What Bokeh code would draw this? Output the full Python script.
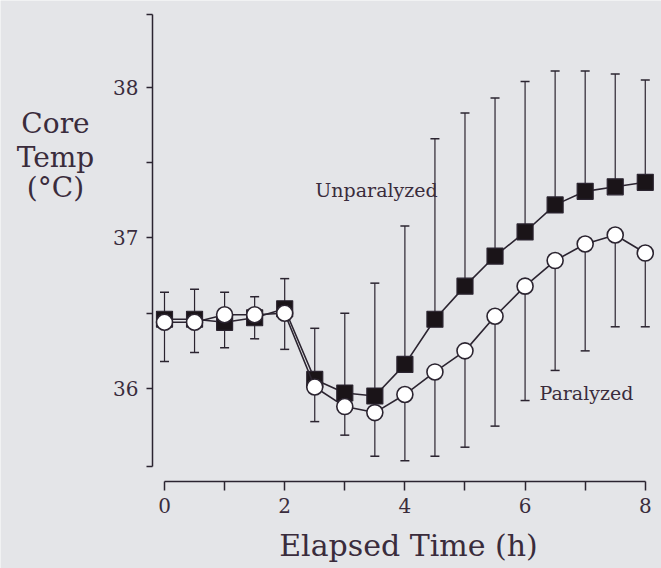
from bokeh.plotting import figure
from bokeh.models import FixedTicker, Label, Whisker, TeeHead, ColumnDataSource, LinearAxis
from bokeh.embed import file_html
from bokeh.resources import INLINE

# ---- data ----
hours = [0, 0.5, 1, 1.5, 2, 2.5, 3, 3.5, 4, 4.5, 5, 5.5, 6, 6.5, 7, 7.5, 8]
unparalyzed = [36.46, 36.46, 36.44, 36.47, 36.53, 36.06, 35.97, 35.95, 36.16, 36.46,
               36.68, 36.88, 37.04, 37.22, 37.31, 37.34, 37.37]
unparalyzed_upper = [36.64, 36.66, 36.64, 36.61, 36.73, 36.40, 36.50, 36.70, 37.08, 37.66,
                     37.83, 37.93, 38.04, 38.11, 38.11, 38.09, 38.05]
paralyzed = [36.44, 36.44, 36.49, 36.49, 36.50, 36.01, 35.88, 35.84, 35.96, 36.11,
             36.25, 36.48, 36.68, 36.85, 36.96, 37.02, 36.90]
paralyzed_lower = [36.18, 36.24, 36.27, 36.33, 36.26, 35.78, 35.69, 35.55, 35.52, 35.55,
                   35.61, 35.75, 35.92, 36.12, 36.25, 36.41, 36.41]
x_ticks = [0, 2, 4, 6, 8]
x_minor = [1, 3, 5, 7]
y_ticks = [36, 37, 38]
y_minor = [35.483, 36.5, 37.5, 38.484]
y_title_lines = ["Core", "Temp", "(°C)"]
x_title = "Elapsed Time (h)"

BG = "#e4e5e8"
INK = "#2b2430"
TXT = "#3a2c3c"
FONT = "DejaVu Serif"

p = figure(width=661, height=568, output_backend="svg", toolbar_location=None,
           x_range=(-2.729, 8.270), y_range=(34.804, 38.578),
           x_axis_location=None, y_axis_location=None,
           min_border_left=0, min_border_right=0, min_border_top=0, min_border_bottom=0)
p.background_fill_color = BG
p.border_fill_color = BG
p.outline_line_color = None
p.grid.visible = False


def style(ax, tick_len, standoff):
    ax.axis_line_color = INK
    ax.axis_line_width = 1.5
    ax.major_tick_line_color = INK
    ax.minor_tick_line_color = INK
    ax.major_tick_line_width = 1.5
    ax.minor_tick_line_width = 1.5
    ax.major_tick_out = tick_len
    ax.major_tick_in = 0
    ax.minor_tick_out = tick_len
    ax.minor_tick_in = 0
    ax.major_label_text_font = FONT
    ax.major_label_text_font_size = "20px"
    ax.major_label_text_color = TXT
    ax.major_label_standoff = standoff


xa = LinearAxis(ticker=FixedTicker(ticks=x_ticks, minor_ticks=x_minor),
                bounds=(0, 8), fixed_location=35.382)
style(xa, 9, 7)
p.add_layout(xa, "below")

ya = LinearAxis(ticker=FixedTicker(ticks=y_ticks, minor_ticks=y_minor),
                bounds=(35.482, 38.486), fixed_location=-0.2)
style(ya, 6, 8)
p.add_layout(ya, "left")

# error bars
src_u = ColumnDataSource(dict(t=hours, y=unparalyzed, up=unparalyzed_upper))
src_p = ColumnDataSource(dict(t=hours, y=paralyzed, lo=paralyzed_lower))
w_u = Whisker(base="t", lower="y", upper="up", source=src_u, level="underlay",
              line_color=INK, line_width=1.2,
              upper_head=TeeHead(size=9, line_color=INK, line_width=1.5), lower_head=None)
w_p = Whisker(base="t", lower="lo", upper="y", source=src_p, level="underlay",
              line_color=INK, line_width=1.2,
              lower_head=TeeHead(size=9, line_color=INK, line_width=1.5), upper_head=None)
p.add_layout(w_u)
p.add_layout(w_p)

# series
p.line("t", "y", source=src_u, line_color=INK, line_width=1.6)
p.scatter("t", "y", source=src_u, marker="square", size=16, fill_color="#1a1418",
          line_color=INK, line_width=1.2)
p.line("t", "y", source=src_p, line_color=INK, line_width=1.6)
p.scatter("t", "y", source=src_p, marker="circle", size=16, fill_color="white",
          line_color=INK, line_width=1.6)

# series labels
p.add_layout(Label(x=2.51, y=37.322, text="Unparalyzed", text_font=FONT,
                   text_font_size="19px", text_color=TXT, text_baseline="alphabetic"))
p.add_layout(Label(x=6.24, y=35.967, text="Paralyzed", text_font=FONT,
                   text_font_size="19px", text_color=TXT, text_baseline="alphabetic"))

# axis titles
p.add_layout(Label(x=4.06, y=34.957, text=x_title, text_font=FONT, text_font_size="30px",
                   text_color=TXT, text_align="center", text_baseline="alphabetic"))
for txt, yy in zip(y_title_lines, [37.761, 37.535, 37.336]):
    p.add_layout(Label(x=-1.814, y=yy, text=txt, text_font=FONT, text_font_size="28px",
                       text_color=TXT, text_align="center", text_baseline="alphabetic"))

open("out.html", "w").write(file_html(p, INLINE))
